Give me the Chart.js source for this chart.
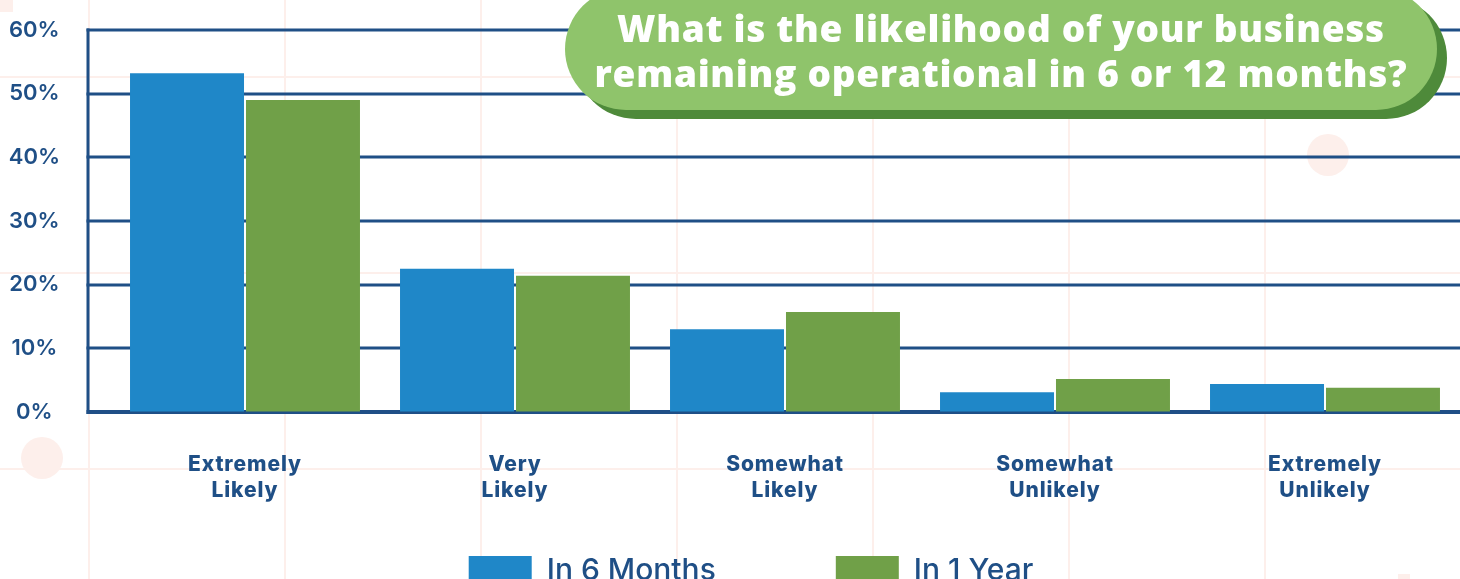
<!DOCTYPE html>
<html>
<head>
<meta charset="utf-8">
<script src="https://cdn.jsdelivr.net/npm/chart.js@4.4.1/dist/chart.umd.min.js"></script>
<style>
  html, body { margin: 0; padding: 0; width: 1460px; height: 579px; overflow: hidden; background: #ffffff; }
  #bg {
    position: absolute; left: 0; top: 0; width: 1460px; height: 579px;
    background-image:
      linear-gradient(to right, #fdefeb 2px, transparent 2px),
      linear-gradient(to bottom, #fdefeb 2px, transparent 2px);
    background-size: 196px 196px, 196px 196px;
    background-position: 88px 0, 0 76px;
  }
  .dot { position: absolute; width: 42px; height: 42px; border-radius: 50%; background: #fdefeb; }
  .sq { position: absolute; background: #fdefeb; }
  #wrap { position: absolute; left: 0; top: 0; width: 1460px; height: 672px; }
  #title {
    position: absolute; left: 565px; top: -12px; width: 872px; height: 122px;
    background: #8fc46b; border-radius: 62px;
    box-shadow: 10px 9px 0 #4e8a3a;
    color: #ffffff; font-family: "Open Sans", sans-serif; font-weight: 800;
    font-size: 37px; letter-spacing: 0.7px; line-height: 45px; text-align: center;
    box-sizing: border-box; padding-top: 17px; white-space: nowrap;
  }
</style>
</head>
<body>
<div id="bg"></div>
<div class="dot" style="left:21px;top:437px"></div>
<div class="dot" style="left:1307px;top:134px"></div>
<div class="sq" style="left:0;top:0;width:13px;height:12px"></div>
<div class="sq" style="left:1398px;top:574px;width:12px;height:10px"></div>
<div id="wrap"><canvas id="c"></canvas></div>
<div id="title">What is the likelihood of your business<br>remaining operational in 6 or 12 months?</div>
<script>
const categories = [
  ['Extremely', 'Likely'],
  ['Very', 'Likely'],
  ['Somewhat', 'Likely'],
  ['Somewhat', 'Unlikely'],
  ['Extremely', 'Unlikely']
];
const seriesNames = ['In 6 Months', 'In 1 Year'];
const in6Months = [53.2, 22.5, 13.0, 3.1, 4.4];
const in1Year = [49.0, 21.4, 15.7, 5.2, 3.8];
const yTickValues = [0, 10, 20, 30, 40, 50, 60];

const AXIS = '#1f4f86';
const BLUE = '#1f87c8';
const GREEN = '#70a048';

const gridPlugin = {
  id: 'extGrid',
  beforeDatasetsDraw(chart) {
    const ctx = chart.ctx;
    const y = chart.scales.y;
    const left = 88;
    ctx.save();
    ctx.strokeStyle = AXIS;
    yTickValues.forEach(v => {
      const py = Math.round(y.getPixelForValue(v));
      ctx.lineWidth = v === 0 ? 4 : 3;
      ctx.beginPath();
      ctx.moveTo(left - 1.5, py);
      ctx.lineTo(chart.width, py);
      ctx.stroke();
    });
    ctx.lineWidth = 3;
    ctx.beginPath();
    ctx.moveTo(left, Math.round(y.getPixelForValue(60)) - 1.5);
    ctx.lineTo(left, Math.round(y.getPixelForValue(0)) + 2);
    ctx.stroke();
    ctx.restore();
  },
  afterDatasetsDraw(chart) {
    chart.ctx.letterSpacing = '0.9px';
  },
  afterDraw(chart) {
    chart.ctx.letterSpacing = '0px';
  },
  afterLayout(chart) {
    const lg = chart.legend;
    if (lg) {
      lg.left += 21; lg.right += 21;
      const h = lg.bottom - lg.top;
      lg.top = 436; lg.bottom = 436 + h;
    }
  }
};

new Chart(document.getElementById('c'), {
  type: 'bar',
  data: {
    labels: categories,
    datasets: [
      { label: seriesNames[0], data: in6Months, backgroundColor: BLUE, borderWidth: 0 },
      { label: seriesNames[1], data: in1Year, backgroundColor: GREEN, borderWidth: 0 }
    ]
  },
  options: {
    responsive: true,
    maintainAspectRatio: false,
    animation: false,
    layout: { padding: { top: 30, left: 0, right: 0, bottom: 0 } },
    datasets: { bar: { categoryPercentage: 0.859, barPercentage: 0.983 } },
    scales: {
      x: {
        grid: { display: false },
        border: { display: false },
        ticks: {
          color: AXIS,
          font: { family: 'Inter', size: 21, weight: '800', lineHeight: 1.24 },
          padding: 32,
          maxRotation: 0,
          z: 1
        },
        afterFit(scale) { scale.height = 100; }
      },
      y: {
        min: 0, max: 60,
        afterBuildTicks(scale) { scale.ticks = yTickValues.map(v => ({ value: v })); },
        grid: { display: true, drawOnChartArea: false, drawTicks: true, tickLength: 40, color: 'rgba(0,0,0,0)' },
        border: { display: false },
        ticks: {
          color: AXIS,
          crossAlign: 'center',
          padding: 10,
          font: { family: 'Inter', size: 22, weight: '600' },
          callback: v => v + '%'
        },
        afterFit(scale) { scale.width = 110; }
      }
    },
    plugins: {
      legend: {
        position: 'bottom',
        labels: {
          boxWidth: 63, boxHeight: 30, padding: 120,
          color: AXIS,
          font: { family: 'Inter', size: 30, weight: '500' }
        }
      },
      tooltip: { enabled: false }
    }
  },
  plugins: [gridPlugin]
});
</script>
</body>
</html>
